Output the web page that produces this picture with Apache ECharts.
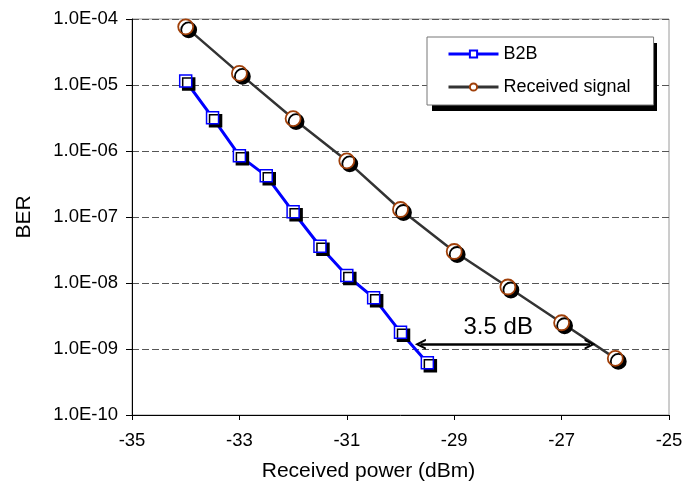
<!DOCTYPE html>
<html>
<head>
<meta charset="utf-8">
<script src="https://cdn.jsdelivr.net/npm/echarts@6/dist/echarts.min.js"></script>
<style>
html,body{margin:0;padding:0;background:#fff;}
#chart{width:684px;height:488px;}
</style>
</head>
<body>
<div id="chart"></div>
<script>
var xB2B = [-34, -33.5, -33, -32.5, -32, -31.5, -31, -30.5, -30, -29.5];
var berB2B = [1.15e-5, 3.2e-6, 8.5e-7, 4.2e-7, 1.2e-7, 3.6e-8, 1.3e-8, 6.0e-9, 1.8e-9, 6.2e-10];
var xReceived = [-34, -33, -32, -31, -30, -29, -28, -27, -26];
var berReceived = [7.6e-5, 1.5e-5, 3.1e-6, 7.1e-7, 1.3e-7, 3.0e-8, 8.7e-9, 2.5e-9, 7.2e-10];
var xTicks = [-35, -33, -31, -29, -27, -25];
var yTickLabels = ['1.0E-10', '1.0E-09', '1.0E-08', '1.0E-07', '1.0E-06', '1.0E-05', '1.0E-04'];
var seriesNames = ['B2B', 'Received signal'];
var arrowX = [-29.63, -26.47];
var arrowY = 1.18e-9;
var arrowText = '3.5 dB';

function pairs(xs, ys) { return xs.map(function (x, i) { return [x, ys[i]]; }); }

var FONT = "'Liberation Sans', Arial, sans-serif";
var chevron = 'path://M5,0 L10,9 L8,9 L5,3.6 L2,9 L0,9 Z';

var chart = echarts.init(document.getElementById('chart'), null, {renderer: 'canvas'});
chart.setOption({
  animation: false,
  backgroundColor: '#ffffff',
  textStyle: {fontFamily: FONT},
  grid: {
    left: 132, right: 15, top: 19, bottom: 73,
    show: true, borderColor: '#9a9a9a', borderWidth: 1,
    outerBoundsMode: 'none'
  },
  graphic: [{
    type: 'rect', z: 3, silent: true,
    shape: {x: 432, y: 43, width: 225, height: 68},
    style: {fill: '#000000'}
  }],
  legend: {
    data: seriesNames,
    orient: 'vertical',
    left: 427, top: 37,
    padding: [7, 23, 8, 20],
    itemWidth: 50, itemHeight: 9, itemGap: 13,
    backgroundColor: '#ffffff',
    borderColor: '#777777', borderWidth: 1,
    z: 5,
    textStyle: {fontFamily: FONT, fontSize: 18, color: '#000', lineHeight: 20},
    lineStyle: {width: 3},
    itemStyle: {shadowColor: 'rgba(0,0,0,0)', shadowOffsetX: 0, shadowOffsetY: 0, shadowBlur: 0}
  },
  xAxis: {
    type: 'value', min: -35, max: -25,
    name: 'Received power (dBm)', nameLocation: 'middle', nameGap: 46,
    nameTextStyle: {fontFamily: FONT, fontSize: 21, color: '#000', padding: [0, 64, 0, 0]},
    axisLine: {show: true, onZero: false, lineStyle: {color: '#000', width: 1}},
    axisTick: {show: true, inside: false, length: 5, customValues: xTicks, lineStyle: {color: '#000'}},
    axisLabel: {customValues: xTicks, fontFamily: FONT, fontSize: 18.5, color: '#000', margin: 16},
    splitLine: {show: false}
  },
  yAxis: {
    type: 'log', logBase: 10, min: 1e-10, max: 1e-4,
    name: 'BER', nameLocation: 'middle', nameGap: 97, nameRotate: 90,
    nameTextStyle: {fontFamily: FONT, fontSize: 21, color: '#000'},
    axisLine: {show: true, onZero: false, lineStyle: {color: '#000', width: 1}},
    axisTick: {show: true, inside: false, length: 6, lineStyle: {color: '#000'}},
    axisLabel: {
      fontFamily: FONT, fontSize: 18.5, color: '#000', margin: 14,
      formatter: function (v) {
        var e = Math.round(Math.log10(v));
        var idx = e + 10;
        return yTickLabels[idx] !== undefined ? yTickLabels[idx] : '';
      }
    },
    splitLine: {show: true, lineStyle: {color: '#555', width: 1, type: [7, 3]}},
    minorTick: {show: false}
  },
  series: [
    {
      name: seriesNames[0], type: 'line',
      data: pairs(xB2B, berB2B),
      symbol: 'rect', symbolSize: 12,
      lineStyle: {color: '#0000ff', width: 3},
      itemStyle: {color: '#ffffff', borderColor: '#0000ff', borderWidth: 1.5,
        shadowColor: '#000000', shadowBlur: 0, shadowOffsetX: 3, shadowOffsetY: 3},
      z: 3
    },
    {
      name: seriesNames[1], type: 'line',
      data: pairs(xReceived, berReceived),
      symbol: 'circle', symbolSize: 15,
      lineStyle: {color: '#333333', width: 2.5},
      itemStyle: {color: '#ffffff', borderColor: '#a0400a', borderWidth: 1.8,
        shadowColor: '#000000', shadowBlur: 0, shadowOffsetX: 3, shadowOffsetY: 3},
      z: 2,
      markLine: {
        silent: true, animation: false,
        symbol: [chevron, chevron], symbolSize: [11, 11],
        lineStyle: {color: '#000', width: 2.5, type: 'solid'},
        label: {show: true, position: 'middle', formatter: arrowText,
          fontFamily: FONT, fontSize: 24, color: '#000', distance: 5,
          padding: [0, 14, 0, 0]},
        data: [[{coord: [arrowX[0], arrowY]}, {coord: [arrowX[1], arrowY]}]]
      }
    }
  ]
});
</script>
</body>
</html>
